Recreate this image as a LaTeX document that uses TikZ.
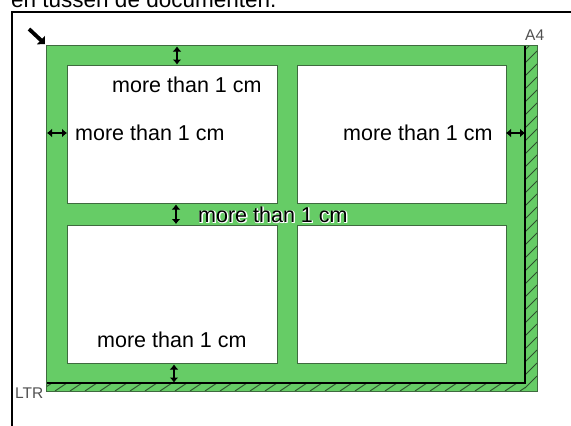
\documentclass[tikz,border=0pt]{standalone}
\usepackage{fontspec}
\setmainfont{Liberation Sans}
\usetikzlibrary{arrows.meta}
\definecolor{grn}{HTML}{66CC66}
\definecolor{dkg}{HTML}{3F6B3F}
\definecolor{hatch}{HTML}{2E4F2E}
\definecolor{lbl}{HTML}{505050}
\tikzset{
  txt/.style={inner sep=0pt, font=\fontsize{21.5}{24}\selectfont, text=black},
  small/.style={inner sep=0pt, font=\fontsize{15.5}{18}\selectfont, text=lbl},
  dim/.style={line width=2.2pt, {Latex[length=5pt,width=9pt]}-{Latex[length=5pt,width=9pt]}},
  wbox/.style={fill=white, draw=dkg, line width=0.9pt},
}
\begin{document}
\begin{tikzpicture}[x=1pt,y=-1pt]
\useasboundingbox (0,0) rectangle (571,426);
% clipped caption at the top
\node[txt, anchor=base west, font=\fontsize{22.5}{25}\selectfont] (cap) at (11,7.5) {en tussen de documenten.};
% outer frame
\draw[line width=2pt] (11.5,426) -- (11.5,11.5) -- (571,11.5);
% green sheet
\draw[fill=grn, draw=dkg, line width=1pt] (46,45) rectangle (537,391);
% hatching
\begin{scope}
  \clip (525,45) rectangle (537,391);
  \foreach \y in {50,63,...,400} \draw[hatch, line width=0.9pt] (525,\y) -- (537,{\y-12});
\end{scope}
\begin{scope}
  \clip (46,383) rectangle (525,391);
  \foreach \x in {40,55,...,540} \draw[hatch, line width=0.9pt] (\x,391) -- ({\x+12},383);
\end{scope}
\draw[line width=1.3pt] (525,45) -- (525,383) -- (46,383);
\draw[draw=dkg, line width=1pt] (46,45) rectangle (537,391);
% documents
\draw[wbox] (67,65) rectangle (277,203);
\draw[wbox] (297,65) rectangle (506,203);
\draw[wbox] (67,225) rectangle (277,363);
\draw[wbox] (297,225) rectangle (506,363);
% corner arrow
\coordinate (ca1) at (29,29);
\coordinate (ca2) at (45,44);
\draw[line width=3.8pt, -{Triangle[angle=90:8pt]}] (ca1) -- (ca2);
% labels
\node[small, anchor=base west] (a4) at (525,40) {A4};
\node[small, anchor=base west] (ltr) at (15,398) {LTR};
% dimension arrows
\coordinate (t1) at (177,46.5); \coordinate (t2) at (177,64.5);
\draw[dim] (t1) -- (t2);
\coordinate (m1) at (176,204.5); \coordinate (m2) at (176,224);
\draw[dim] (m1) -- (m2);
\coordinate (b1) at (174,364.5); \coordinate (b2) at (174,382.5);
\draw[dim] (b1) -- (b2);
\coordinate (l1) at (47,133); \coordinate (l2) at (67,133);
\draw[dim] (l1) -- (l2);
\coordinate (r1) at (506,133); \coordinate (r2) at (525,133);
\draw[dim] (r1) -- (r2);
% texts
\node[txt, anchor=base west] (txtop) at (112,92) {more than 1 cm};
\node[txt, anchor=base west] (txleft) at (75,140) {more than 1 cm};
\node[txt, anchor=base west] (txright) at (343,140) {more than 1 cm};
\node[txt, anchor=base west] (txbot) at (97,347) {more than 1 cm};
\node[txt, anchor=base west, text=white] (hal1) at (199.3,223.3) {more than 1 cm};
\node[txt, anchor=base west, text=white] (hal2) at (199.3,222) {more than 1 cm};
\node[txt, anchor=base west, text=white] (hal3) at (198,223.3) {more than 1 cm};
\node[txt, anchor=base west] (txmid) at (198,222) {more than 1 cm};
\end{tikzpicture}
\end{document}
